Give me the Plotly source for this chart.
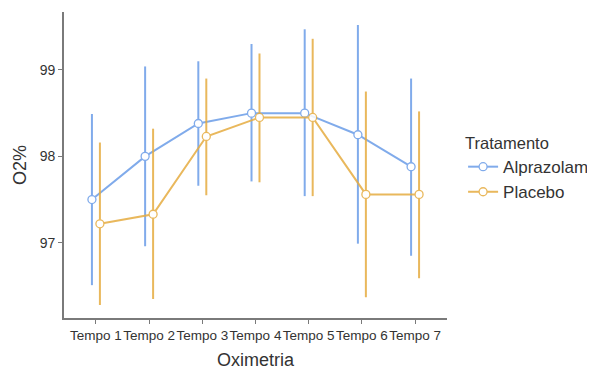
import plotly.graph_objects as go

categories = ["Tempo 1", "Tempo 2", "Tempo 3", "Tempo 4", "Tempo 5", "Tempo 6", "Tempo 7"]
series_names = ["Alprazolam", "Placebo"]

alpr_mean = [97.50, 98.00, 98.38, 98.50, 98.50, 98.25, 97.88]
alpr_upper = [98.49, 99.04, 99.10, 99.30, 99.47, 99.52, 98.90]
alpr_lower = [96.51, 96.96, 97.66, 97.71, 97.54, 96.99, 96.85]

plac_mean = [97.22, 97.33, 98.23, 98.45, 98.45, 97.56, 97.56]
plac_upper = [98.16, 98.32, 98.90, 99.19, 99.36, 98.75, 98.52]
plac_lower = [96.28, 96.35, 97.55, 97.70, 97.54, 96.37, 96.59]

colors = ["#6B9DE8", "#E6AC40"]
dodge = [-0.075, 0.075]

FONT = "Liberation Sans, Arial, sans-serif"
TXT = "#333333"
AXIS = "#7a7a7a"

fig = go.Figure()
for name, m, up, lo, col, dx in [
    (series_names[0], alpr_mean, alpr_upper, alpr_lower, colors[0], dodge[0]),
    (series_names[1], plac_mean, plac_upper, plac_lower, colors[1], dodge[1]),
]:
    xs = [i + 1 + dx for i in range(len(categories))]
    fig.add_trace(go.Scatter(
        x=xs, y=m, name=name, mode="lines+markers",
        line=dict(color=col, width=2),
        marker=dict(symbol="circle", size=8, color="white", line=dict(color=col, width=1.3)),
        opacity=0.85,
        error_y=dict(type="data", symmetric=False,
                     array=[u - v for u, v in zip(up, m)],
                     arrayminus=[v - l for v, l in zip(m, lo)],
                     color=col, thickness=2, width=0),
    ))

# page body has an 8px margin, so the figure is drawn at (8, 8)
fig.update_layout(
    width=587, height=362,
    margin=dict(l=56, r=148, t=4, b=52, autoexpand=False),
    paper_bgcolor="white", plot_bgcolor="white",
    font=dict(family=FONT, color=TXT),
    showlegend=True,
    legend=dict(
        x=1.042, y=0.622, xanchor="left", yanchor="top",
        title=dict(text="Tratamento", side="top", font=dict(size=16.5, color=TXT)),
        font=dict(size=17, color=TXT),
        tracegroupgap=0, itemwidth=30,
    ),
    xaxis=dict(
        tickmode="array", tickvals=list(range(1, len(categories) + 1)), ticktext=categories,
        range=[0.4, 7.6], showline=True, linecolor=AXIS, linewidth=1.6,
        ticks="outside", ticklen=4, tickcolor=AXIS, tickwidth=1.4, showgrid=False, zeroline=False,
        tickfont=dict(size=13.5, color=TXT), tickangle=0, automargin=False,
    ),
    yaxis=dict(
        range=[96.13, 99.67], tickvals=[97, 98, 99], ticktext=["97", "98", "99"],
        showline=True, linecolor=AXIS, linewidth=1.6,
        ticks="outside", ticklen=4, tickcolor=AXIS, tickwidth=1.4, showgrid=False, zeroline=False,
        tickfont=dict(size=14, color=TXT), automargin=False,
    ),
    annotations=[
        dict(text="Oximetria", xref="paper", yref="paper", x=0.5, y=-0.137,
             xanchor="center", yanchor="middle", showarrow=False,
             font=dict(size=18, color=TXT, family=FONT)),
        dict(text="O2%", xref="paper", yref="paper", x=-0.115, y=0.5,
             xanchor="center", yanchor="middle", showarrow=False, textangle=-90,
             font=dict(size=18, color=TXT, family=FONT)),
    ],
)

fig.write_html("out.html")
